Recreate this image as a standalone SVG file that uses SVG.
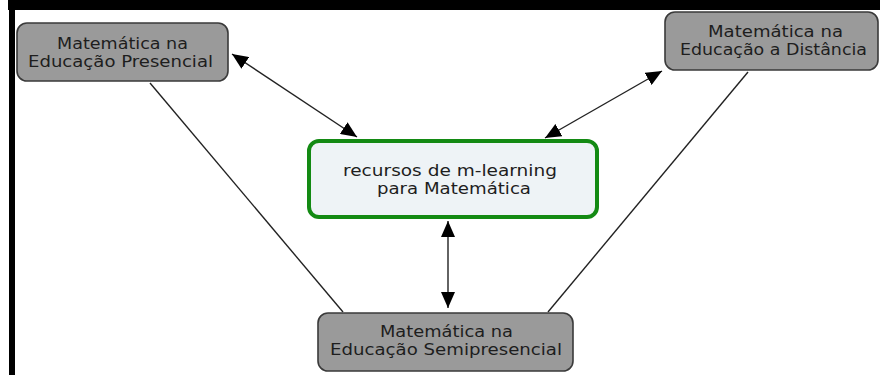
<svg xmlns="http://www.w3.org/2000/svg" width="880" height="375" viewBox="0 0 880 375">
<style>
.gbox{fill:#9a9a9a;stroke:#3a3a3a;stroke-width:1.6}
.cbox{fill:#eef3f6;stroke:#138a13;stroke-width:4}
.t{font-family:"DejaVu Sans",Verdana,sans-serif;font-size:15px;fill:#1e1e1e}
.ln{stroke:#222;stroke-width:1.4;fill:none}
</style>
<defs>
<marker id="ah" viewBox="0 0 16 14" markerUnits="userSpaceOnUse" markerWidth="16" markerHeight="14" refX="16" refY="7" orient="auto-start-reverse">
<path d="M0,0 L16,7 L0,14 z" fill="#000"/>
</marker>
</defs>
<rect x="0" y="0" width="880" height="375" fill="#fff"/>
<rect x="8" y="0" width="872" height="10" fill="#000"/>
<rect x="9" y="0" width="6" height="375" fill="#000"/>
<g id="connectors">
<line class="ln" x1="232" y1="54" x2="357" y2="137" marker-start="url(#ah)" marker-end="url(#ah)"/>
<line class="ln" x1="662" y1="71" x2="545" y2="138" marker-start="url(#ah)" marker-end="url(#ah)"/>
<line class="ln" x1="448" y1="221" x2="448" y2="308" stroke="#555" marker-start="url(#ah)" marker-end="url(#ah)"/>
<line class="ln" x1="150" y1="83" x2="343" y2="312"/>
<line class="ln" x1="748" y1="72" x2="548" y2="312"/>
</g>
<g id="node-presencial">
<rect class="gbox" x="17" y="23" width="211" height="58" rx="10"/>
<text class="t" x="57" y="49" textLength="131" lengthAdjust="spacingAndGlyphs">Matemática na</text>
<text class="t" x="28" y="67" textLength="185" lengthAdjust="spacingAndGlyphs">Educação Presencial</text>
</g>
<g id="node-distancia">
<rect class="gbox" x="665" y="12" width="213" height="58" rx="10"/>
<text class="t" x="708" y="37" textLength="135" lengthAdjust="spacingAndGlyphs">Matemática na</text>
<text class="t" x="680" y="55" textLength="187" lengthAdjust="spacingAndGlyphs">Educação a Distância</text>
</g>
<g id="node-recursos">
<rect class="cbox" x="309" y="141" width="288" height="76" rx="10"/>
<text class="t" x="343" y="176" textLength="214" lengthAdjust="spacingAndGlyphs">recursos de m-learning</text>
<text class="t" x="377" y="194" textLength="154" lengthAdjust="spacingAndGlyphs">para Matemática</text>
</g>
<g id="node-semipresencial">
<rect class="gbox" x="318" y="313" width="255" height="58" rx="10"/>
<text class="t" x="380" y="337" textLength="133" lengthAdjust="spacingAndGlyphs">Matemática na</text>
<text class="t" x="330" y="355" textLength="232" lengthAdjust="spacingAndGlyphs">Educação Semipresencial</text>
</g>
</svg>
